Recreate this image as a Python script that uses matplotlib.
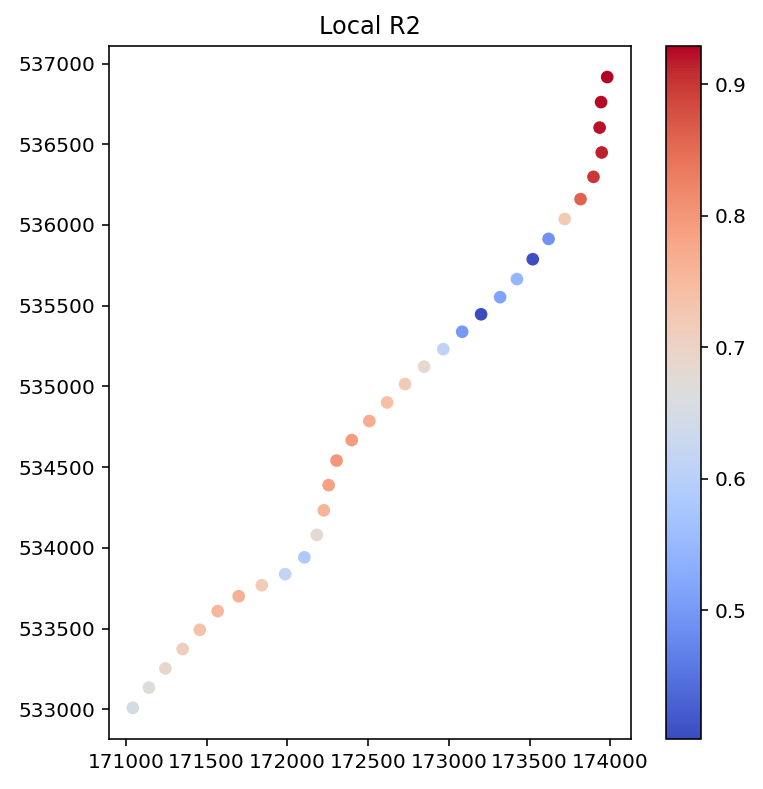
import numpy as np
import matplotlib
matplotlib.use("Agg")
import matplotlib.pyplot as plt

# point coordinates (easting / northing) and local R2 values
x = [171043, 171143, 171245, 171352, 171458, 171569, 171699, 171842, 171987, 172106,
     172183, 172226, 172256, 172305, 172399, 172508, 172618, 172729, 172847, 172966,
     173083, 173200, 173318, 173422, 173520, 173618, 173718, 173816, 173896, 173947,
     173934, 173943, 173981]
y = [533010, 533135, 533254, 533374, 533493, 533609, 533701, 533769, 533838, 533942,
     534081, 534233, 534389, 534541, 534668, 534786, 534901, 535015, 535123, 535231,
     535339, 535447, 535553, 535665, 535788, 535914, 536037, 536160, 536298, 536449,
     536603, 536761, 536916]
r2 = [0.65, 0.67, 0.69, 0.71, 0.735, 0.755, 0.765, 0.715, 0.615, 0.585,
      0.68, 0.76, 0.785, 0.80, 0.795, 0.77, 0.74, 0.72, 0.685, 0.61,
      0.50, 0.402, 0.515, 0.545, 0.405, 0.49, 0.72, 0.86, 0.90, 0.915,
      0.922, 0.926, 0.929]

fig = plt.figure(figsize=(763 / 144, 789 / 144), dpi=144)
ax = fig.add_axes([0.1429, 0.0621, 0.684, 0.881])
cax = fig.add_axes([0.873, 0.0634, 0.0459, 0.878])

sc = ax.scatter(x, y, c=r2, cmap='coolwarm', s=40, linewidths=0)
ax.set_aspect('equal')
ax.set_title('Local R2')
fig.colorbar(sc, cax=cax)

fig.savefig('out.png', dpi=144)
